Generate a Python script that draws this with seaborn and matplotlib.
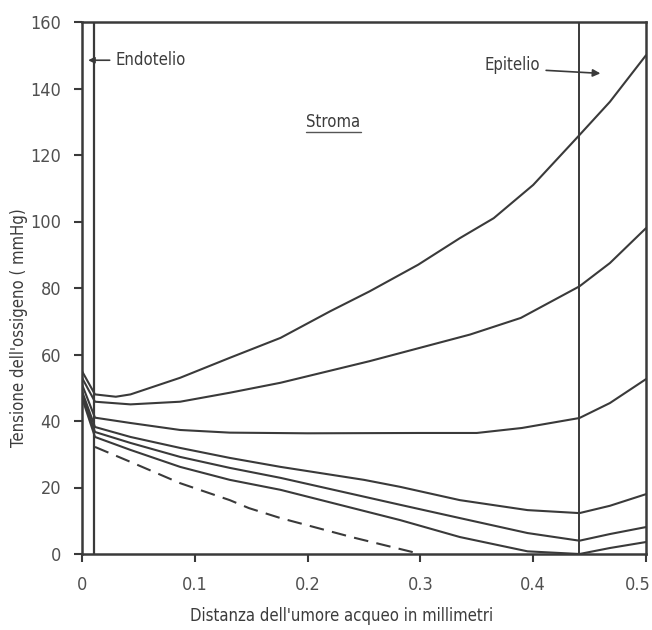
import numpy as np
import pandas as pd
import matplotlib
matplotlib.use("Agg")
import matplotlib.pyplot as plt
import matplotlib.transforms as mtransforms
import seaborn as sns
from matplotlib.lines import Line2D

# ---- data ----
x1 = [0.0, 0.0115, 0.03, 0.043, 0.087, 0.131, 0.176, 0.22, 0.255, 0.298, 0.335, 0.365, 0.40, 0.441, 0.468, 0.50]
y1 = [55, 48, 47.3, 48, 53, 59, 65, 73, 79, 87, 95, 101, 111, 126, 136, 150]

x2 = [0.0, 0.0115, 0.043, 0.087, 0.131, 0.176, 0.255, 0.344, 0.389, 0.441, 0.468, 0.50]
y2 = [53, 45.8, 45, 45.8, 48.5, 51.5, 58, 66, 71, 80.5, 87.5, 98]

x3 = [0.0, 0.0115, 0.043, 0.087, 0.131, 0.20, 0.30, 0.35, 0.39, 0.441, 0.468, 0.50]
y3 = [51, 41, 39.4, 37.3, 36.5, 36.3, 36.4, 36.4, 37.9, 40.9, 45.4, 52.6]

x4 = [0.0, 0.0115, 0.043, 0.087, 0.131, 0.176, 0.25, 0.282, 0.335, 0.395, 0.441, 0.468, 0.50]
y4 = [49, 38.2, 35.2, 31.9, 28.9, 26.2, 22.3, 20.2, 16.2, 13.2, 12.3, 14.5, 18]

x5 = [0.0, 0.0115, 0.043, 0.087, 0.131, 0.176, 0.282, 0.335, 0.395, 0.441, 0.468, 0.50]
y5 = [48, 36.7, 33.4, 29.2, 25.9, 22.9, 14.8, 10.8, 6.3, 4.0, 6.0, 8.1]

x6 = [0.0, 0.0115, 0.043, 0.087, 0.131, 0.176, 0.282, 0.335, 0.395, 0.441, 0.468, 0.50]
y6 = [47, 35.2, 31.3, 26.2, 22.3, 19.3, 10.2, 5.1, 0.8, 0.0, 1.8, 3.6]

x7 = [0.0115, 0.043, 0.087, 0.131, 0.148, 0.176, 0.24, 0.30]
y7 = [32.2, 27.7, 21.3, 16.2, 13.8, 10.8, 5.0, 0.0]

series_x = [x1, x2, x3, x4, x5, x6, x7]
series_y = [y1, y2, y3, y4, y5, y6, y7]
series_names = ["c1", "c2", "c3", "c4", "c5", "c6", "dashed"]

endotelio_x = 0.011
epitelio_x = 0.441

xticks = [0, 0.1, 0.2, 0.3, 0.4, 0.5]
xticklabels = ["0", "0.1", "0.2", "0.3", "0.4", "0.5"]
yticks = [0, 20, 40, 60, 80, 100, 120, 140, 160]

xlabel = "Distanza dell'umore acqueo in millimetri"
ylabel = "Tensione dell'ossigeno ( mmHg)"

# ---- build frame ----
rows = []
for name, xs, ys in zip(series_names, series_x, series_y):
    for a, b in zip(xs, ys):
        rows.append({"x": a, "y": b, "curve": name})
df = pd.DataFrame(rows)

sns.set_theme(style="ticks")
plt.rcParams["font.family"] = ["DejaVu Sans"]
plt.rcParams["font.stretch"] = "condensed"

fig = plt.figure(figsize=(6.52, 6.30), dpi=100)
ax = fig.add_axes([82 / 652, (630 - 554) / 630, (646 - 82) / 652, (554 - 22) / 630])

ink = "#3a3a3a"
txt = "#3c3c3c"
solid = df[df["curve"] != "dashed"]
sns.lineplot(data=solid, x="x", y="y", units="curve", estimator=None,
             color=ink, linewidth=1.5, sort=False, ax=ax)
dashed = df[df["curve"] == "dashed"]
sns.lineplot(data=dashed, x="x", y="y", estimator=None, color=ink,
             linewidth=1.5, sort=False, ax=ax)
ax.lines[-1].set_dashes([7, 4])

ax.axvline(endotelio_x, color=ink, linewidth=1.6)
ax.axvline(epitelio_x, color=ink, linewidth=1.4)

ax.set_xlim(0, 0.5)
ax.set_ylim(0, 160)
ax.set_xticks(xticks)
ax.set_xticklabels(xticklabels)
ax.set_yticks(yticks)
for s in ax.spines.values():
    s.set_color(ink)
    s.set_linewidth(1.8)
ax.tick_params(axis="both", direction="out", length=6, width=1.5, color=ink,
               labelsize=13, labelcolor="#505050")
ax.tick_params(axis="y", pad=9)
ax.tick_params(axis="x", pad=10)

# keep the last x label inside the figure
last = ax.get_xticklabels()[-1]
last.set_horizontalalignment("right")
last.set_transform(last.get_transform() +
                   mtransforms.ScaledTranslation(5 / 100, 0, fig.dpi_scale_trans))

ax.set_xlabel(xlabel, fontsize=12, color=txt)
ax.set_ylabel(ylabel, fontsize=12, color=txt)
ax.xaxis.set_label_coords(0.46, -0.1)
ax.yaxis.set_label_coords(-0.095, 0.425)

# annotations
ax.annotate("", xy=(0.003, 148.5), xytext=(0.027, 148.5),
            arrowprops=dict(arrowstyle="-|>", color=ink, lw=1.2, mutation_scale=9))
ax.text(0.03, 148.5, "Endotelio", fontsize=12, color=txt, va="center", ha="left")

ax.text(0.406, 147, "Epitelio", fontsize=12, color=txt, va="center", ha="right")
ax.annotate("", xy=(0.462, 144.5), xytext=(0.409, 145.5),
            arrowprops=dict(arrowstyle="-|>", color=ink, lw=1.2, mutation_scale=11))

st = ax.text(0.223, 130, "Stroma", fontsize=12, color=txt, va="center", ha="center")
fig.canvas.draw()
bb = st.get_window_extent().transformed(fig.transFigure.inverted())
fig.add_artist(Line2D([bb.x0, bb.x1], [bb.y0 - 0.002, bb.y0 - 0.002],
                      transform=fig.transFigure, color="#555555", lw=1.0))

fig.savefig("out.png", dpi=100)
